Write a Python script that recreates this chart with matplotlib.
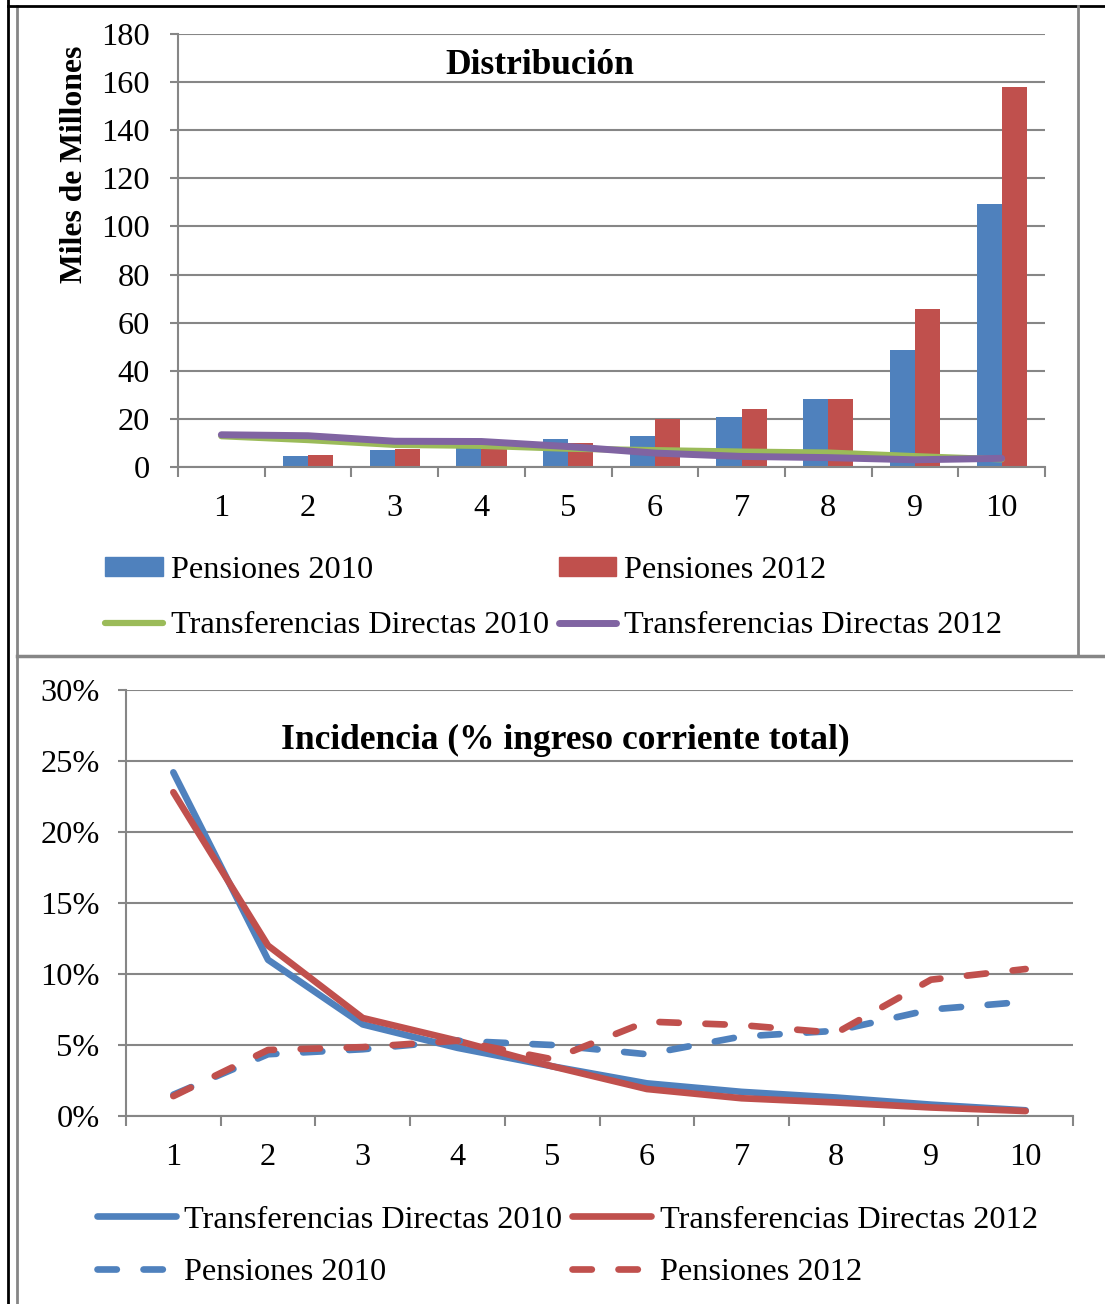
import matplotlib
matplotlib.use("Agg")
import matplotlib.pyplot as plt
from matplotlib.lines import Line2D
from matplotlib.patches import Patch
from matplotlib.ticker import FuncFormatter

# datos
deciles = list(range(1, 11))
pens_2010 = [0.6, 4.5, 7.0, 8.0, 11.7, 12.7, 20.6, 28.1, 48.6, 109.4]
pens_2012 = [0.6, 5.1, 7.4, 7.6, 10.0, 20.1, 24.3, 28.3, 65.7, 158.0]
td_2010 = [12.8, 11.2, 9.2, 8.8, 7.6, 7.0, 6.4, 6.0, 4.5, 3.2]
td_2012 = [13.4, 13.0, 10.7, 10.6, 8.5, 5.8, 4.4, 3.9, 3.0, 3.6]

# incidencia (% ingreso corriente total)
td_2010_inc = [24.2, 11.0, 6.45, 4.8, 3.5, 2.3, 1.7, 1.3, 0.8, 0.4]
td_2012_inc = [22.8, 12.0, 6.9, 5.3, 3.5, 1.9, 1.25, 0.95, 0.6, 0.35]
pens_2010_inc = [1.5, 4.35, 4.7, 5.3, 5.0, 4.35, 5.6, 6.0, 7.5, 8.05]
pens_2012_inc = [1.4, 4.65, 4.85, 5.3, 4.0, 6.65, 6.4, 5.85, 9.6, 10.35]

azul = "#4F81BD"
rojo = "#C0504D"
verde = "#9BBB59"
morado = "#8064A2"
gris = "#868686"

plt.rcParams['font.family'] = ['Liberation Serif', 'DejaVu Serif']
FS = 23.3
LW = 4.8

W, H = 1105, 1304
fig = plt.figure(figsize=(W / 100, H / 100), dpi=100)


def rect(l, t, r, b):
    return [l / W, 1 - b / H, (r - l) / W, (b - t) / H]


def fline(x0, y0, x1, y1, color, lw):
    fig.add_artist(Line2D([x0 / W, x1 / W], [1 - y0 / H, 1 - y1 / H],
                          transform=fig.transFigure, color=color, lw=lw))


def estilo(ax, ypad, xpad):
    for s in ["top", "right"]:
        ax.spines[s].set_visible(False)
    for s in ["left", "bottom"]:
        ax.spines[s].set_color(gris)
        ax.spines[s].set_linewidth(1.5)
    ax.set_xlim(0.5, 10.5)
    ax.set_xticks(deciles)
    ax.set_xticks([i + 0.5 for i in range(0, 11)], minor=True)
    ax.tick_params(axis="x", which="major", length=0, pad=xpad, labelsize=FS)
    ax.tick_params(axis="x", which="minor", length=7, width=1.5, color=gris)
    ax.tick_params(axis="y", length=6, width=1.5, color=gris, pad=ypad, labelsize=FS)
    ax.grid(axis="y", color=gris, lw=1.5)
    ax.set_axisbelow(True)


# ---- Distribucion ----
ax1 = fig.add_axes(rect(178, 34, 1045, 467))
bw = 0.29
ax1.bar([d - bw / 2 for d in deciles], pens_2010, width=bw, color=azul, zorder=2)
ax1.bar([d + bw / 2 for d in deciles], pens_2012, width=bw, color=rojo, zorder=2)
ax1.plot(deciles, td_2010, color=verde, lw=4.5, solid_capstyle="round", zorder=3)
ax1.plot(deciles, td_2012, color=morado, lw=5, solid_capstyle="round", zorder=4)
ax1.set_ylim(0, 180)
ax1.set_yticks(range(0, 181, 20))
estilo(ax1, 14, 19.5)

fig.text(540 / W, 1 - 66 / H, "Distribución", ha="center", va="center",
         fontsize=25.5, fontweight="bold")
fig.text(75 / W, 1 - 164 / H, "Miles de Millones", ha="center", va="center",
         rotation=90, fontsize=22.8, fontweight="bold")

h1 = [Patch(color=azul, label="Pensiones 2010"),
      Line2D([], [], color=verde, lw=4.5, solid_capstyle="round", label="Transferencias Directas 2010"),
      Patch(color=rojo, label="Pensiones 2012"),
      Line2D([], [], color=morado, lw=5, solid_capstyle="round", label="Transferencias Directas 2012")]
fig.legend(handles=h1, ncol=2, loc="upper left", bbox_to_anchor=(105 / W, 1 - 556 / H),
           frameon=False, fontsize=FS, borderpad=0, borderaxespad=0,
           handlelength=1.78, handleheight=0.49, handletextpad=0.25,
           columnspacing=0.3, labelspacing=0.8)

# ---- Incidencia ----
ax2 = fig.add_axes(rect(126, 690, 1073, 1116))
ax2.plot(deciles, td_2010_inc, color=azul, lw=LW, solid_capstyle="round", zorder=3)
ax2.plot(deciles, td_2012_inc, color=rojo, lw=LW, solid_capstyle="round", zorder=3)
ax2.plot(deciles, pens_2010_inc, color=azul, lw=LW, ls=(0, (2.9, 4.0)),
         dash_capstyle="round", zorder=3)
ax2.plot(deciles, pens_2012_inc, color=rojo, lw=LW, ls=(0, (2.9, 4.0)),
         dash_capstyle="round", zorder=3)
ax2.set_ylim(0, 30)
ax2.set_yticks(range(0, 31, 5))
ax2.yaxis.set_major_formatter(FuncFormatter(lambda v, p: "%d%%" % v))
estilo(ax2, 13, 19.3)

fig.text(565 / W, 1 - 740 / H, "Incidencia (% ingreso corriente total)", ha="center",
         va="center", fontsize=25.5, fontweight="bold")

h2 = [Line2D([], [], color=azul, lw=LW, solid_capstyle="round", label="Transferencias Directas 2010"),
      Line2D([], [], color=azul, lw=LW, ls=(0, (2.9, 4.0)), dash_capstyle="round", label="Pensiones 2010"),
      Line2D([], [], color=rojo, lw=LW, solid_capstyle="round", label="Transferencias Directas 2012"),
      Line2D([], [], color=rojo, lw=LW, ls=(0, (2.9, 4.0)), dash_capstyle="round", label="Pensiones 2012")]
fig.legend(handles=h2, ncol=2, loc="upper left", bbox_to_anchor=(97 / W, 1 - 1205 / H),
           frameon=False, fontsize=FS, borderpad=0, borderaxespad=0,
           handlelength=2.45, handletextpad=0.25, columnspacing=0.3, labelspacing=0.7)

# bordes de la tabla
fline(8, 0, 8, H, "black", 2)
fline(17, 6, 17, H, gris, 2)
fline(8, 6, W, 6, "black", 2)
fline(1078, 6, 1078, 656, gris, 2)
fline(17, 656, W, 656, gris, 2.5)

fig.savefig("out.png", dpi=100)
